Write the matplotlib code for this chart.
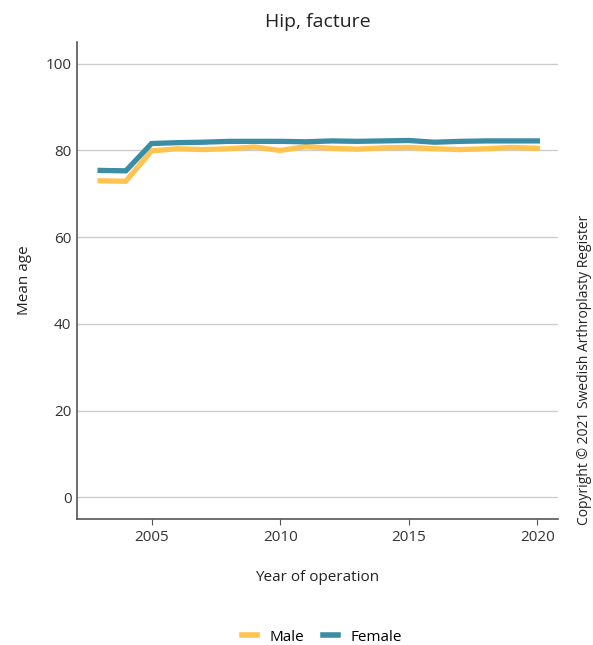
import matplotlib
matplotlib.use('Agg')
import matplotlib.pyplot as plt
from matplotlib.lines import Line2D

plt.rcParams['font.family'] = ['Open Sans', 'DejaVu Sans']

# Mean age per year of operation
years = list(range(2003, 2021))
male = [73.0, 72.9, 79.9, 80.4, 80.2, 80.4, 80.8, 80.0, 80.9, 80.5,
        80.3, 80.6, 80.7, 80.4, 80.2, 80.4, 80.7, 80.5]
female = [75.4, 75.3, 81.6, 81.8, 81.9, 82.1, 82.1, 82.1, 82.0, 82.2,
          82.1, 82.2, 82.3, 81.9, 82.1, 82.2, 82.2, 82.2]

yticks = [0, 20, 40, 60, 80, 100]
xticks = [2005, 2010, 2015, 2020]

male_color = '#FFC44F'
female_color = '#3A8DA5'

fig = plt.figure(figsize=(5.93, 6.45), dpi=100)
ax = fig.add_axes([0.1298, 0.1953, 0.811, 0.7395])

ax.plot(years, male, color=male_color, lw=3.8, solid_joinstyle='miter', zorder=3)
ax.plot(years, female, color=female_color, lw=3.8, solid_joinstyle='miter', zorder=3)

ax.set_xlim(2002.1, 2020.8)
ax.set_ylim(-5, 105)
ax.set_yticks(yticks)
ax.set_xticks(xticks)
ax.yaxis.grid(True, color='#cccccc', lw=1)
ax.set_axisbelow(True)
for s in ['top', 'right']:
    ax.spines[s].set_visible(False)
for s in ['left', 'bottom']:
    ax.spines[s].set_color('#555555')
    ax.spines[s].set_linewidth(1.2)
ax.tick_params(axis='y', length=0, labelsize=11, labelcolor='#333333', pad=4)
ax.tick_params(axis='x', length=4, color='#555555', labelsize=11, labelcolor='#333333', pad=4)

ax.set_title('Hip, facture', fontsize=14, color='#222222', pad=11)
ax.set_ylabel('Mean age', fontsize=11, color='#222222', labelpad=10)
ax.set_xlabel('Year of operation', fontsize=11, color='#222222', labelpad=18)

handles = [Line2D([], [], color=male_color, lw=4),
           Line2D([], [], color=female_color, lw=4)]
fig.legend(handles, ['Male', 'Female'], loc='center', bbox_to_anchor=(0.543, 0.012),
           ncol=2, frameon=False, fontsize=11, handlelength=1.0,
           columnspacing=1.2, handletextpad=0.8)

fig.text(0.998, 0.426, 'Copyright \u00a9 2021 Swedish Arthroplasty Register',
         rotation=90, ha='right', va='center', fontsize=10, color='#222222')

fig.savefig('out.png', dpi=100)
